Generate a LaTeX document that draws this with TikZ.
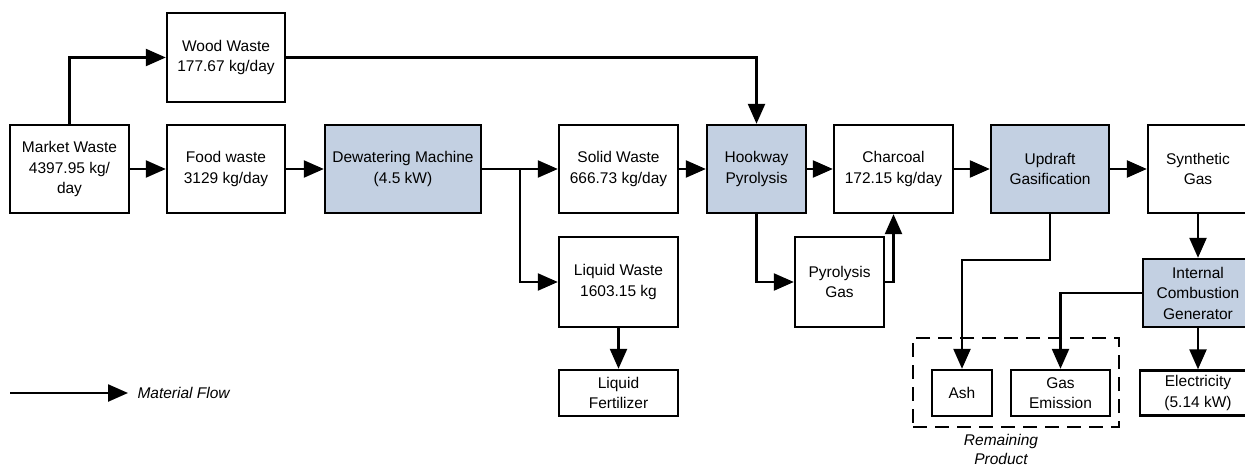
\documentclass[tikz,border=0pt]{standalone}
\usepackage{fontspec}
\setmainfont{Liberation Sans}
\usetikzlibrary{arrows.meta}
\definecolor{procblue}{RGB}{195,208,226}
\tikzset{
  box/.style={draw=black, line width=2.4pt, fill=white, align=center, inner sep=2pt,
    font=\fontsize{15.5}{20.5}\selectfont},
  proc/.style={box, fill=procblue},
  flow/.style={line width=2.4pt, -{Triangle[length=20pt,width=17pt]}},
  note/.style={align=center, font=\fontsize{15.5}{19}\selectfont\itshape}
}
\begin{document}
\begin{tikzpicture}[x=1pt,y=-1pt]
\useasboundingbox (0,0) rectangle (1245,468);
\clip (0,0) rectangle (1245,468);
\fill[white] (0,0) rectangle (1245,468);
% nodes
\node[box, minimum width=119pt, minimum height=88pt] (mw) at (69.5,169) {Market Waste\\4397.95 kg/\\day};
\node[box, minimum width=118pt, minimum height=89pt] (ww) at (226,57.5) {Wood Waste\\177.67 kg/day};
\node[box, minimum width=118pt, minimum height=88pt] (fw) at (226,169) {Food waste\\3129 kg/day};
\node[proc, minimum width=156pt, minimum height=88pt] (dw) at (403,169) {Dewatering Machine\\(4.5 kW)};
\node[box, minimum width=119pt, minimum height=88pt] (sw) at (618.5,169) {Solid Waste\\666.73 kg/day};
\node[proc, minimum width=99pt, minimum height=88pt] (hp) at (756.5,169) {Hookway\\Pyrolysis};
\node[box, minimum width=119pt, minimum height=88pt] (ch) at (893.5,169) {Charcoal\\172.15 kg/day};
\node[proc, minimum width=118pt, minimum height=88pt] (ug) at (1050,169) {Updraft\\Gasification};
\node[box, minimum width=100pt, minimum height=88pt] (sg) at (1198,169) {Synthetic\\Gas};
\node[box, minimum width=119pt, minimum height=90pt] (lw) at (618.5,282) {Liquid Waste\\1603.15 kg};
\node[box, minimum width=119pt, minimum height=46pt] (lf) at (618.5,393) {Liquid\\Fertilizer};
\node[box, minimum width=89pt, minimum height=90pt] (pg) at (839.5,282) {Pyrolysis\\Gas};
\node[proc, minimum width=110pt, minimum height=68pt] (icg) at (1198,293) {Internal\\Combustion\\Generator};
\node[box, minimum width=116pt, minimum height=45pt] (el) at (1198,393) {Electricity\\(5.14 kW)};
\node[box, minimum width=60pt, minimum height=46pt] (ash) at (962,393) {Ash};
\node[box, minimum width=99pt, minimum height=46pt] (ge) at (1060.5,393) {Gas\\Emission};
\node[draw, line width=2.4pt, dash pattern=on 14pt off 8pt, minimum width=206pt, minimum height=89pt] (rp) at (1016,382.5) {};
\node[note] (rpl) at (1001,449) {Remaining\\Product};
% connectors
\draw[flow] (mw.north) |- (ww.west);
\draw[flow] (mw) -- (fw);
\draw[flow] (fw) -- (dw);
\draw[flow] (dw) -- (sw);
\coordinate (br) at (520,169);
\draw[flow] (br) |- (lw.west);
\draw[flow] (lw) -- (lf);
\draw[flow] (ww.east) -| (hp.north);
\draw[flow] (sw) -- (hp);
\draw[flow] (hp) -- (ch);
\draw[flow] (hp.south) |- (pg.west);
\draw[flow] (pg.east) -| (ch.south);
\draw[flow] (ch) -- (ug);
\draw[flow] (ug) -- (sg);
\draw[flow] (ug.south) -- ++(0,46) -| (ash.north);
\draw[flow] (sg) -- (icg);
\draw[flow] (icg.west) -| (ge.north);
\draw[flow] (icg) -- (el);
% legend
\coordinate (l1) at (10,393);
\coordinate (l2) at (128,393);
\draw[flow] (l1) -- (l2);
\node[note, anchor=west] (lt) at (134,393) {Material Flow};
\end{tikzpicture}
\end{document}
